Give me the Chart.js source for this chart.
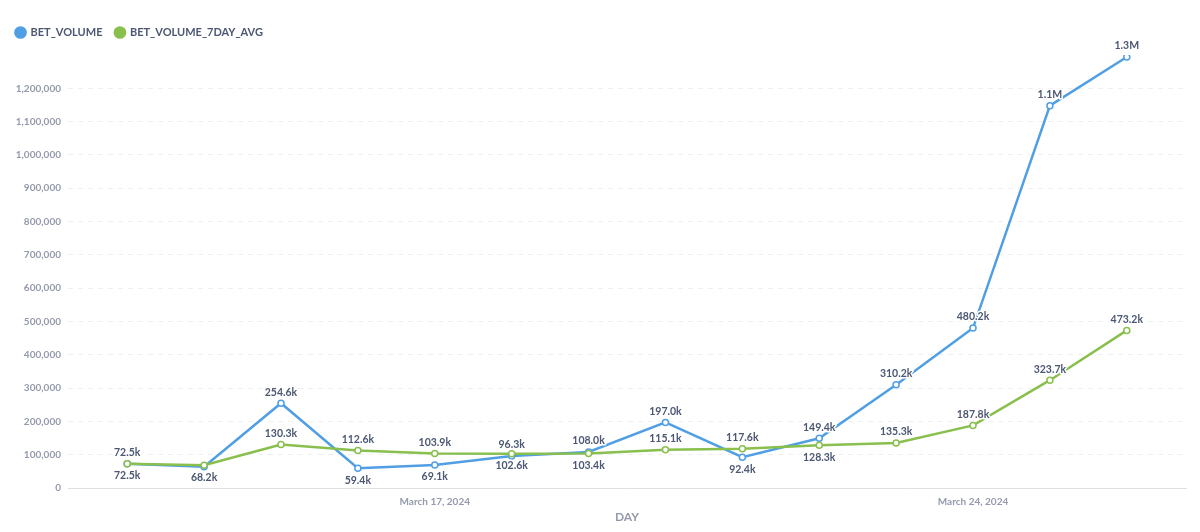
<!DOCTYPE html>
<html>
<head>
<meta charset="utf-8">
<script src="https://cdn.jsdelivr.net/npm/chart.js@4.4.1/dist/chart.umd.min.js"></script>
<style>
  html, body { margin: 0; padding: 0; background: #fff; }
  #wrap { width: 1200px; height: 532px; position: relative; }
</style>
</head>
<body>
<div id="wrap"><canvas id="chart"></canvas></div>
<script>
// data
const days = ['March 13, 2024', 'March 14, 2024', 'March 15, 2024', 'March 16, 2024', 'March 17, 2024',
  'March 18, 2024', 'March 19, 2024', 'March 20, 2024', 'March 21, 2024', 'March 22, 2024',
  'March 23, 2024', 'March 24, 2024', 'March 25, 2024', 'March 26, 2024'];
const betVolume    = [72500, 63900, 254600, 59400, 69100, 96300, 108000, 197000, 92400, 149400, 310200, 480200, 1148000, 1294000];
const betVolumeAvg = [72500, 68200, 130300, 112600, 103900, 102600, 103400, 115100, 117600, 128300, 135300, 187800, 323700, 473200];
const xTickLabels  = ['March 17, 2024', 'March 24, 2024'];
const yMaxTick = 1200000;

// where each value label sits (a = above, b = below, - = hidden)
const labelPos = ['a-abbaaabaaaaa', 'bbaaabbaabaaaa'];

const BLUE = '#509ee3';
const GREEN = '#88bf4d';
const TEXT = '#4c5773';
const MUTED = '#949aab';

function fmt(v) {
  if (v >= 1000000) return (v / 1000000).toFixed(1) + 'M';
  return (v / 1000).toFixed(1) + 'k';
}

const pointLabels = {
  id: 'pointLabels',
  afterDatasetsDraw(chart) {
    const ctx = chart.ctx;
    ctx.save();
    ctx.font = 'bold 10.5px Lato';
    ctx.textAlign = 'center';
    ctx.textBaseline = 'middle';
    ctx.lineJoin = 'round';
    chart.data.datasets.forEach((ds, di) => {
      const pos = labelPos[di];
      chart.getDatasetMeta(di).data.forEach((pt, i) => {
        if (pos[i] === '-') return;
        const y = pt.y + (pos[i] === 'a' ? -11 : 12);
        const t = fmt(ds.data[i].y);
        ctx.strokeStyle = '#fff';
        ctx.lineWidth = 3;
        ctx.strokeText(t, pt.x, y);
        ctx.fillStyle = TEXT;
        ctx.fillText(t, pt.x, y);
      });
    });
    ctx.restore();
  }
};

// push the plot area down to where the reference starts it
const legendGap = {
  id: 'legendGap',
  beforeInit(chart) {
    const fit = chart.legend.fit;
    chart.legend.fit = function () {
      fit.bind(chart.legend)();
      this.height = 41;
    };
  }
};

function series(values) {
  return values.map((v, i) => ({ x: i, y: v }));
}

new Chart(document.getElementById('chart'), {
  type: 'line',
  data: {
    datasets: [
      {
        label: 'BET_VOLUME', data: series(betVolume), order: 1,
        borderColor: BLUE, backgroundColor: BLUE, borderWidth: 2.5,
        pointRadius: 3, pointBorderWidth: 1.5, pointBackgroundColor: '#fff', pointBorderColor: BLUE,
        tension: 0
      },
      {
        label: 'BET_VOLUME_7DAY_AVG', data: series(betVolumeAvg), order: 0,
        borderColor: GREEN, backgroundColor: GREEN, borderWidth: 2.5,
        pointRadius: 3, pointBorderWidth: 1.5, pointBackgroundColor: '#fff', pointBorderColor: GREEN,
        tension: 0
      }
    ]
  },
  plugins: [pointLabels, legendGap],
  options: {
    responsive: true,
    maintainAspectRatio: false,
    animation: false,
    layout: { padding: { left: 3, right: 14, top: 14, bottom: 4 } },
    plugins: {
      legend: {
        position: 'top',
        align: 'start',
        labels: {
          usePointStyle: true, pointStyle: 'circle', boxWidth: 9, boxHeight: 9,
          color: TEXT, font: { family: 'Lato', size: 11, weight: 'bold' }, padding: 13,
          sort: (a, b) => a.datasetIndex - b.datasetIndex,
          generateLabels: chart => Chart.defaults.plugins.legend.labels.generateLabels(chart)
            .map(l => Object.assign(l, { fillStyle: l.strokeStyle, lineWidth: 0 }))
        }
      },
      tooltip: { enabled: false }
    },
    scales: {
      x: {
        type: 'linear',
        min: -0.77, max: 13.77,
        afterBuildTicks: s => { s.ticks = xTickLabels.map(l => ({ value: days.indexOf(l) })); },
        afterFit: s => { s.height = 40; },
        ticks: {
          callback: v => days[v], maxRotation: 0, autoSkip: false,
          color: MUTED, font: { family: 'Lato', size: 10, weight: 'bold' }, padding: 0
        },
        grid: { display: false },
        border: { display: true, color: '#dcdfe3' },
        title: { display: true, text: 'DAY', color: MUTED, font: { family: 'Lato', size: 12, weight: 'bold' }, padding: { top: 9 } }
      },
      y: {
        min: 0, max: 1300000,
        afterBuildTicks: s => { s.ticks = s.ticks.filter(t => t.value <= yMaxTick); },
        afterFit: s => { s.width = 65; },
        ticks: {
          stepSize: 100000,
          callback: v => v.toLocaleString('en-US'),
          color: MUTED, font: { family: 'Lato', size: 10, weight: 'bold' }, padding: 7
        },
        grid: { color: '#eeeff1', drawTicks: false },
        border: { display: false, dash: [5, 5] }
      }
    }
  }
});
</script>
</body>
</html>
